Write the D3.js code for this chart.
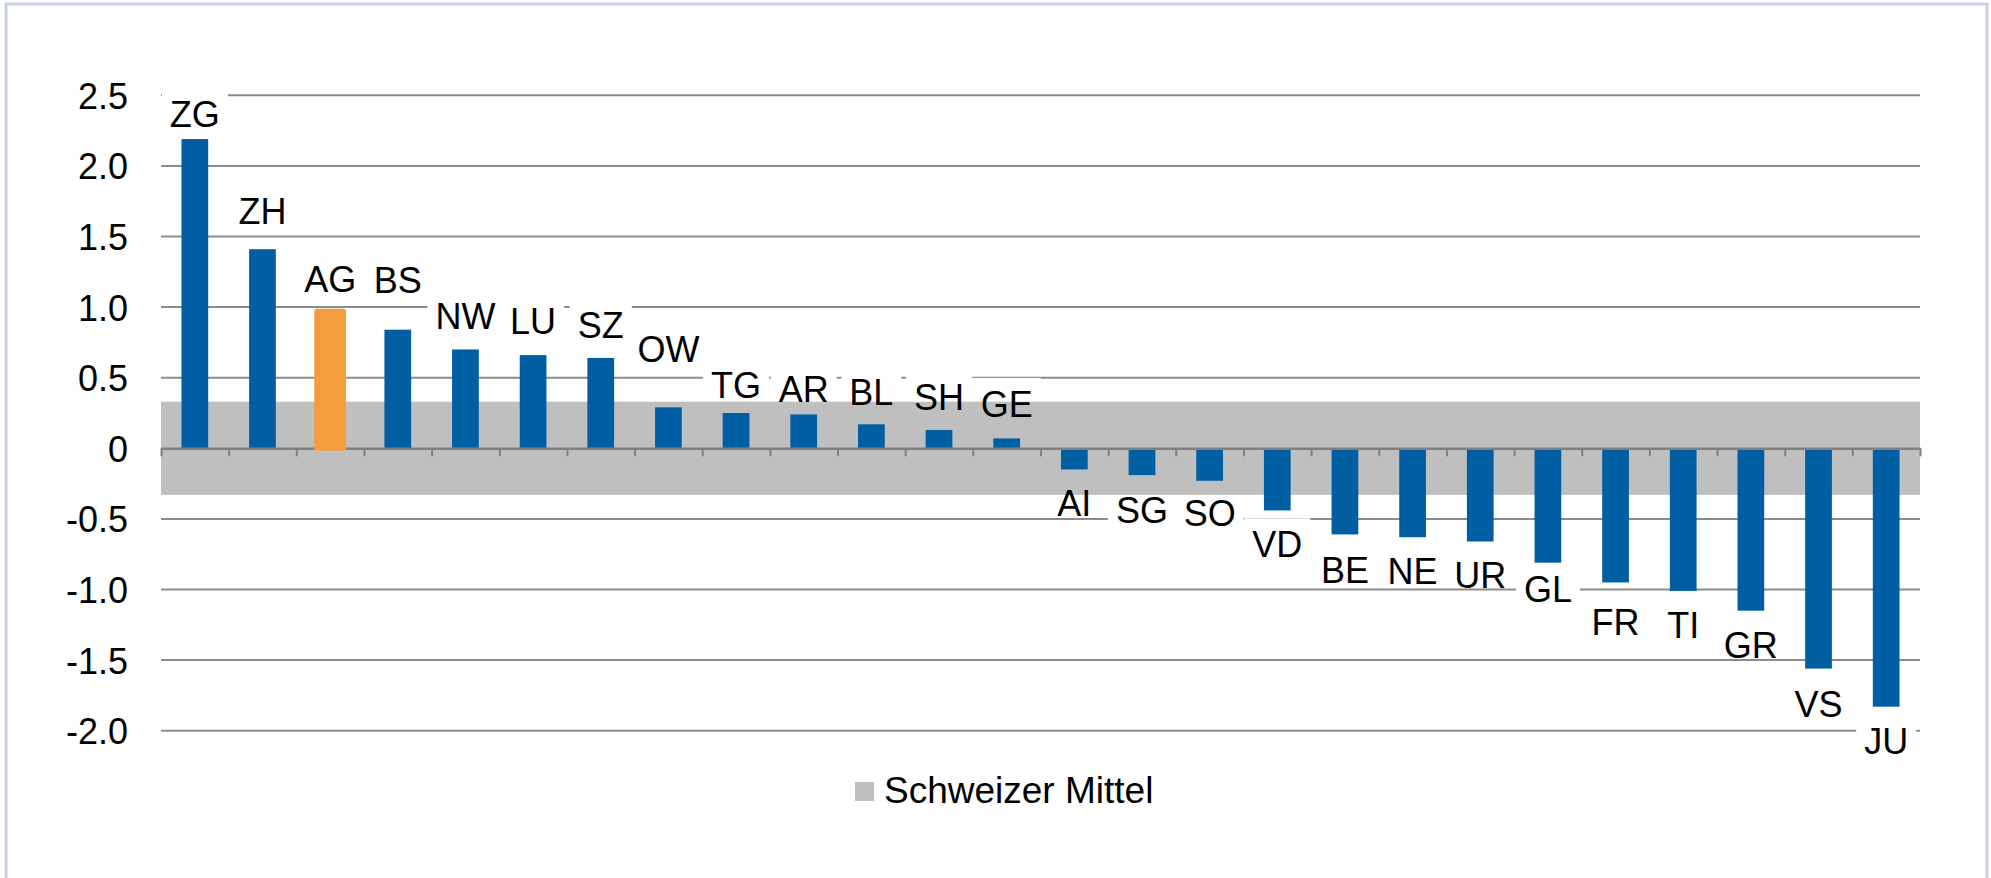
<!DOCTYPE html>
<html>
<head>
<meta charset="utf-8">
<script src="https://cdn.jsdelivr.net/npm/d3@7"></script>
<style>
  html, body { margin: 0; padding: 0; background: #ffffff; }
  svg { display: block; }
  text { font-family: "Liberation Sans", Arial, sans-serif; fill: #000; }
</style>
</head>
<body>
<svg id="chart" width="1991" height="878"></svg>
<script>
// ---- data ----
const categories = ["ZG","ZH","AG","BS","NW","LU","SZ","OW","TG","AR","BL","SH","GE",
                    "AI","SG","SO","VD","BE","NE","UR","GL","FR","TI","GR","VS","JU"];
const values = [2.19, 1.41, 0.97, 0.84, 0.70, 0.66, 0.64, 0.29, 0.25, 0.24, 0.17, 0.13, 0.07,
                -0.15, -0.19, -0.23, -0.44, -0.61, -0.63, -0.66, -0.81, -0.95, -1.01, -1.15, -1.56, -1.83];
// vertical anchor (in data units) of each category label
const labelValues = [2.37, 1.68, 1.20, 1.19, 0.94, 0.90, 0.87, 0.70, 0.45, 0.42, 0.40, 0.365, 0.314,
                     -0.39, -0.435, -0.46, -0.68, -0.86, -0.87, -0.90, -1.00, -1.23, -1.25, -1.39, -1.81, -2.07];
const highlight = "AG";
const bandRange = [-0.33, 0.33];
const yTicks = [2.5, 2.0, 1.5, 1.0, 0.5, 0, -0.5, -1.0, -1.5, -2.0];
const legendLabel = "Schweizer Mittel";

(function () {
// ---- layout ----
const svg = d3.select("#chart");
const pLeft = 161, pRight = 1920, pTop = 95.3, pBottom = 730.7;
const blue = "#005ea2", orange = "#f49d3e", bandGray = "#bfbfbf", gridGray = "#8c8c8c";
const fs = 36;

const y = d3.scaleLinear().domain([-2.0, 2.5]).range([pBottom, pTop]);
const x = d3.scaleBand().domain(categories).range([pLeft, pRight]).padding(0);
const xi = d3.scaleLinear().domain([0, categories.length]).range([pLeft, pRight]);
const barW = x.bandwidth() * 0.395;

// outer border
svg.append("rect").attr("x", 6).attr("y", 4).attr("width", 1981).attr("height", 920)
  .attr("fill", "none").attr("stroke", "#c9d2e7").attr("stroke-width", 3);

// gridlines
svg.append("g").selectAll("line").data(yTicks.filter(d => d !== 0)).join("line")
  .attr("x1", pLeft).attr("x2", pRight)
  .attr("y1", d => y(d)).attr("y2", d => y(d))
  .attr("stroke", gridGray).attr("stroke-width", 2);

// y axis labels
const yAxis = d3.axisLeft(y).tickValues(yTicks).tickSize(0).tickPadding(33)
  .tickFormat(d => d === 0 ? "0" : d.toFixed(1));
const yg = svg.append("g").attr("transform", `translate(${pLeft},0)`).call(yAxis);
yg.select(".domain").remove();
yg.selectAll("text").style("font-family", '"Liberation Sans", Arial, sans-serif')
  .style("font-size", fs + "px").attr("fill", "#000").attr("dy", "0.36em");

// label box layer (behind band)
const boxLayer = svg.append("g");
// band (Schweizer Mittel)
svg.append("rect").attr("x", pLeft).attr("width", pRight - pLeft)
  .attr("y", y(bandRange[1])).attr("height", y(bandRange[0]) - y(bandRange[1]))
  .attr("fill", bandGray);

const data = categories.map((c, i) => ({ c, v: values[i], lv: labelValues[i] }));

// blue bars
svg.append("g").selectAll("rect").data(data.filter(d => d.c !== highlight)).join("rect")
  .attr("x", d => x(d.c) + (x.bandwidth() - barW) / 2)
  .attr("width", barW)
  .attr("y", d => y(Math.max(0, d.v)))
  .attr("height", d => Math.abs(y(d.v) - y(0)))
  .attr("fill", blue);

// category axis
const xAxis = d3.axisBottom(xi).tickValues(d3.range(categories.length + 1))
  .tickFormat("").tickSizeInner(8).tickSizeOuter(0);
const xg = svg.append("g").attr("transform", `translate(0,${y(0)})`).call(xAxis);
xg.select(".domain").attr("stroke", "#808080").attr("stroke-width", 2.5);
xg.selectAll(".tick line").attr("stroke", "#808080").attr("stroke-width", 2);

// highlighted bar
svg.append("g").selectAll("rect").data(data.filter(d => d.c === highlight)).join("rect")
  .attr("x", d => x(d.c) + (x.bandwidth() - barW) / 2)
  .attr("width", barW)
  .attr("y", d => y(Math.max(0, d.v)))
  .attr("height", d => Math.abs(y(d.v) - y(0)))
  .attr("fill", orange).attr("stroke", orange).attr("stroke-width", 5)
  .attr("stroke-linejoin", "round");

// category labels
const labels = svg.append("g").selectAll("text").data(data).join("text")
  .attr("x", d => x(d.c) + x.bandwidth() / 2)
  .attr("y", d => y(d.lv))
  .attr("dy", "0.36em")
  .attr("text-anchor", "middle")
  .style("font-size", fs + "px")
  .text(d => d.c);

labels.each(function () {
  const b = this.getBBox();
  const baseline = b.y + 0.905 * fs;
  boxLayer.append("rect")
    .attr("x", b.x - 8).attr("width", b.width + 16)
    .attr("y", b.y - 6).attr("height", baseline - (b.y - 6))
    .attr("fill", "#ffffff");
});

// legend
const lg = svg.append("g").attr("transform", "translate(855,782)");
lg.append("rect").attr("width", 19).attr("height", 19).attr("fill", bandGray);
lg.append("text").attr("x", 29).attr("y", 21).style("font-size", "37px").text(legendLabel);
})();
</script>
</body>
</html>
